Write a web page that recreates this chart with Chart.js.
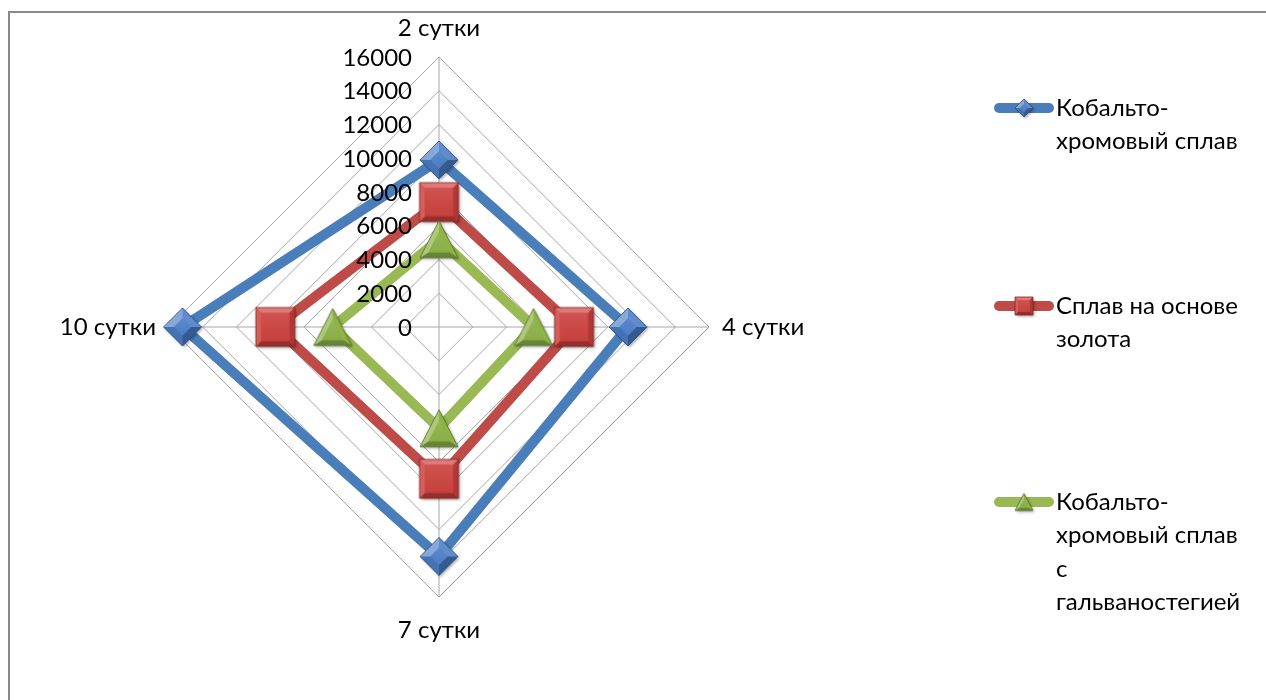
<!DOCTYPE html>
<html>
<head>
<meta charset="utf-8">
<script src="https://cdn.jsdelivr.net/npm/chart.js@4.4.0/dist/chart.umd.min.js"></script>
<style>
  html, body { margin: 0; padding: 0; background: #fff; }
  #wrap { position: relative; width: 1266px; height: 700px; overflow: hidden; }
  #frame { position: absolute; left: 8px; top: 11px; width: 1300px; height: 800px;
           border-left: 2px solid #8a8a8a; border-top: 2px solid #8a8a8a; }
  canvas { position: absolute; left: 0; top: 0; }
</style>
</head>
<body>
<div id="wrap">
  <div id="frame"></div>
  <canvas id="c" width="1266" height="700"></canvas>
</div>
<script>
// ---- data ----
const categories = ["2 сутки", "4 сутки", "7 сутки", "10 сутки"];
const seriesNames = [
  ["Кобальто-", "хромовый сплав"],
  ["Сплав на основе", "золота"],
  ["Кобальто-", "хромовый сплав", "с", "гальваностегией"]
];
const cobaltChrome = [9900, 11200, 13600, 15200];
const goldAlloy = [7400, 8000, 9000, 9700];
const cobaltChromeGalv = [5200, 5600, 6000, 6300];
const tickValues = [0, 2000, 4000, 6000, 8000, 10000, 12000, 14000, 16000];

const FONT = "Lato, 'Open Sans', sans-serif";

// ---- bevelled marker canvases ----
function shade(rgb, f) {
  return 'rgb(' + rgb.map(v => f >= 0 ? Math.round(v + (255 - v) * f) : Math.round(v * (1 + f))).join(',') + ')';
}
function makeMarker(shape, w, h, rgb, bevel) {
  const m = 4;
  const cv = document.createElement('canvas');
  cv.width = Math.ceil(w + 2 * m);
  cv.height = Math.ceil(h + 2 * m);
  const ctx = cv.getContext('2d');
  const cx = cv.width / 2, cy = cv.height / 2;
  let pts;
  if (shape === 'diamond') pts = [[cx, cy - h / 2], [cx + w / 2, cy], [cx, cy + h / 2], [cx - w / 2, cy]];
  else if (shape === 'square') pts = [[cx - w / 2, cy - h / 2], [cx + w / 2, cy - h / 2], [cx + w / 2, cy + h / 2], [cx - w / 2, cy + h / 2]];
  else pts = [[cx, cy - h / 2], [cx + w / 2, cy + h / 2], [cx - w / 2, cy + h / 2]];
  let gx = 0, gy = 0;
  pts.forEach(p => { gx += p[0]; gy += p[1]; });
  gx /= pts.length; gy /= pts.length;
  if (shape === 'triangle') gy = cy + h / 6;
  const k = bevel;
  const inner = pts.map(p => [gx + (p[0] - gx) * k, gy + (p[1] - gy) * k]);
  ctx.save();
  ctx.shadowColor = 'rgba(0,0,0,0.35)';
  ctx.shadowBlur = 3;
  ctx.shadowOffsetX = 1.5;
  ctx.shadowOffsetY = 1.5;
  ctx.beginPath();
  pts.forEach((p, i) => i ? ctx.lineTo(p[0], p[1]) : ctx.moveTo(p[0], p[1]));
  ctx.closePath();
  ctx.fillStyle = shade(rgb, 0);
  ctx.fill();
  ctx.restore();
  const light = [-0.45, -0.89];
  for (let i = 0; i < pts.length; i++) {
    const a = pts[i], b = pts[(i + 1) % pts.length];
    const ia = inner[i], ib = inner[(i + 1) % pts.length];
    let nx = b[1] - a[1], ny = -(b[0] - a[0]);
    const len = Math.hypot(nx, ny); nx /= len; ny /= len;
    const d = nx * light[0] + ny * light[1];
    ctx.beginPath();
    ctx.moveTo(a[0], a[1]); ctx.lineTo(b[0], b[1]); ctx.lineTo(ib[0], ib[1]); ctx.lineTo(ia[0], ia[1]);
    ctx.closePath();
    ctx.fillStyle = shade(rgb, d > 0 ? d * 0.35 : d * 0.3);
    ctx.fill();
  }
  const g = ctx.createLinearGradient(0, cy - h / 2, 0, cy + h / 2);
  g.addColorStop(0, shade(rgb, 0.12));
  g.addColorStop(1, shade(rgb, -0.05));
  ctx.beginPath();
  inner.forEach((p, i) => i ? ctx.lineTo(p[0], p[1]) : ctx.moveTo(p[0], p[1]));
  ctx.closePath();
  ctx.fillStyle = g;
  ctx.fill();
  ctx.beginPath();
  pts.forEach((p, i) => i ? ctx.lineTo(p[0], p[1]) : ctx.moveTo(p[0], p[1]));
  ctx.closePath();
  ctx.lineWidth = 0.8;
  ctx.strokeStyle = shade(rgb, -0.4);
  ctx.stroke();
  return cv;
}

const blueRGB = [74, 126, 200];
const redRGB = [205, 64, 60];
const greenRGB = [142, 180, 72];

const markers = [
  makeMarker('diamond', 38, 38, blueRGB, 0.45),
  makeMarker('square', 39, 39, redRGB, 0.72),
  makeMarker('triangle', 38, 37, greenRGB, 0.55)
];
const legendMarkers = [
  makeMarker('diamond', 18, 18, blueRGB, 0.45),
  makeMarker('square', 18, 18, redRGB, 0.65),
  makeMarker('triangle', 18, 17, greenRGB, 0.5)
];
const lineColors = ['#4A7EBB', '#BE4B48', '#98B954'];

// ---- labels & legend plugin ----
const labelsPlugin = {
  id: 'labelsPlugin',
  afterDraw(chart) {
    const ctx = chart.ctx;
    const r = chart.scales.r;
    ctx.save();
    ctx.fillStyle = '#000';
    ctx.font = '24px ' + FONT;
    ctx.textAlign = 'right';
    ctx.textBaseline = 'middle';
    tickValues.forEach(v => {
      const d = r.getDistanceFromCenterForValue(v);
      ctx.fillText(String(v), r.xCenter - 27, r.yCenter - d + 1);
    });
    const R = r.drawingArea;
    categories.forEach((lab, i) => {
      const p = r.getPointPosition(i, R);
      let x = p.x, y = p.y;
      if (i === 0) { ctx.textAlign = 'center'; y -= 29; }
      else if (i === 1) { ctx.textAlign = 'left'; x += 13; }
      else if (i === 2) { ctx.textAlign = 'center'; y += 33; }
      else { ctx.textAlign = 'right'; x -= 13; }
      ctx.fillText(lab, x, y);
    });
    const entryY = [108, 306, 502];
    const lineH = 33.5;
    seriesNames.forEach((lines, i) => {
      const y = entryY[i];
      ctx.beginPath();
      ctx.moveTo(999, y); ctx.lineTo(1049, y);
      ctx.lineWidth = 10;
      ctx.lineCap = 'round';
      ctx.strokeStyle = lineColors[i];
      ctx.stroke();
      const mk = legendMarkers[i];
      ctx.drawImage(mk, 1024 - mk.width / 2, y - mk.height / 2);
      ctx.fillStyle = '#000';
      ctx.textAlign = 'left';
      ctx.textBaseline = 'middle';
      lines.forEach((t, j) => ctx.fillText(t, 1056, y + j * lineH));
    });
    ctx.restore();
  }
};

const ds = (label, data, i, order) => ({
  label: label.join(' '),
  data: data,
  borderColor: lineColors[i],
  backgroundColor: lineColors[i],
  borderWidth: 10,
  fill: false,
  pointStyle: markers[i],
  pointRadius: 20,
  pointHoverRadius: 20,
  borderJoinStyle: 'round',
  order: order
});

new Chart(document.getElementById('c'), {
  type: 'radar',
  data: {
    labels: categories,
    datasets: [
      ds(seriesNames[0], cobaltChrome, 0, 2),
      ds(seriesNames[1], goldAlloy, 1, 1),
      ds(seriesNames[2], cobaltChromeGalv, 2, 0)
    ]
  },
  options: {
    responsive: false,
    animation: false,
    layout: { padding: { left: 169, top: 57, right: 557, bottom: 103 } },
    plugins: { legend: { display: false }, tooltip: { enabled: false } },
    scales: {
      r: {
        min: 0,
        max: 16000,
        startAngle: 0,
        ticks: { stepSize: 2000, display: false },
        pointLabels: { display: false },
        grid: { color: '#a6a6a6', lineWidth: 1 },
        angleLines: { color: '#a6a6a6', lineWidth: 1 }
      }
    }
  },
  plugins: [labelsPlugin]
});
</script>
</body>
</html>
